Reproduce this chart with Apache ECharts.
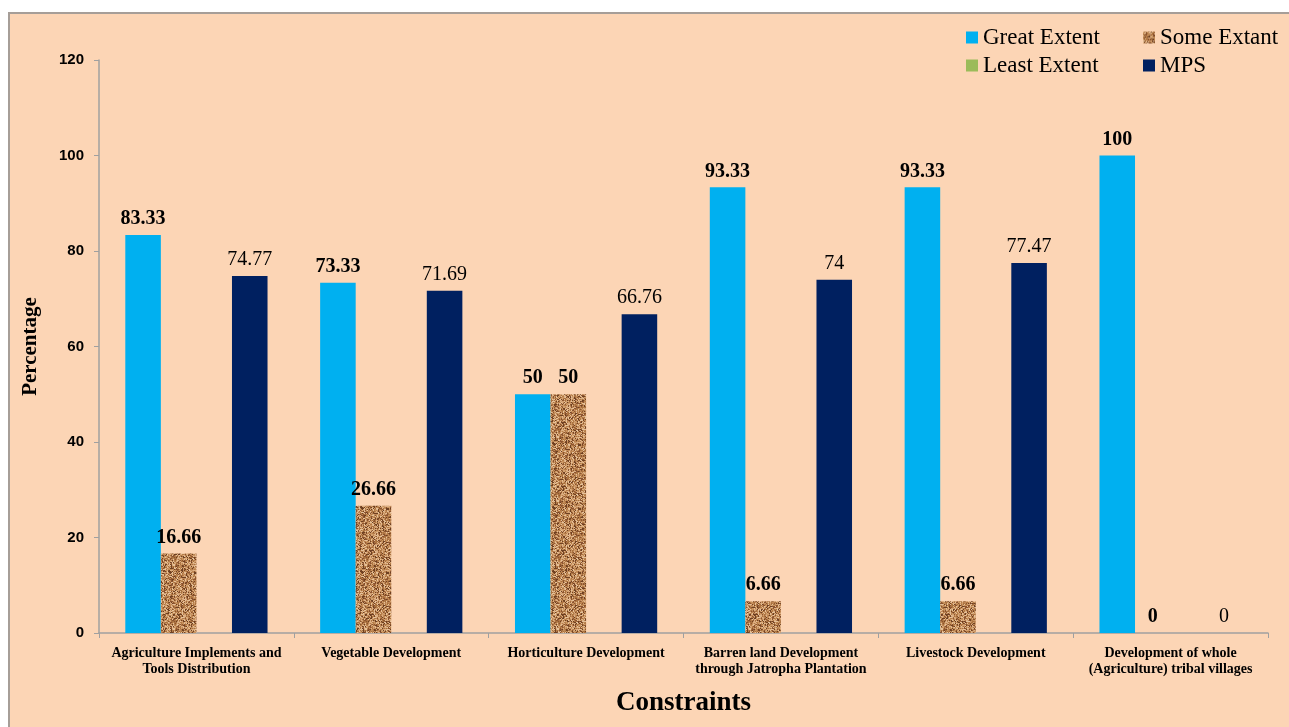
<!DOCTYPE html>
<html>
<head>
<meta charset="utf-8">
<script src="https://cdn.jsdelivr.net/npm/echarts@6/dist/echarts.min.js"></script>
<style>
html,body{margin:0;padding:0;background:#fff;}
#c{width:1289px;height:727px;}
</style>
</head>
<body>
<div id="c"></div>
<script>
var categories = [
  "Agriculture Implements and\nTools Distribution",
  "Vegetable Development",
  "Horticulture Development",
  "Barren land Development\nthrough Jatropha Plantation",
  "Livestock Development",
  "Development of whole\n(Agriculture) tribal villages"
];
var greatExtent = [83.33, 73.33, 50, 93.33, 93.33, 100];
var someExtant  = [16.66, 26.66, 50, 6.66, 6.66, 0];
var leastExtent = [0, 0, 0, 0, 0, 0];
var mps         = [74.77, 71.69, 66.76, 74, 77.47, 0];
var yTicks = [0, 20, 40, 60, 80, 100, 120];

// deterministic cork-like texture
function makeTexture() {
  var N = 64;
  var cv = document.createElement('canvas');
  cv.width = N; cv.height = N;
  var ctx = cv.getContext('2d');
  ctx.fillStyle = '#BF8754';
  ctx.fillRect(0, 0, N, N);
  var shades = ['#DDB084', '#D2A070', '#A9713F', '#8C5430', '#6E4022', '#C8935F', '#E6C29A', '#B57C48'];
  for (var y = 0; y < N; y++) {
    for (var x = 0; x < N; x++) {
      var h = ((x * 374761393) ^ (y * 668265263)) >>> 0;
      h = Math.imul(h ^ (h >>> 13), 1274126177) >>> 0;
      h = (h ^ (h >>> 16)) >>> 0;
      var idx = h % 10;
      if (idx < shades.length) {
        ctx.fillStyle = shades[idx];
        var w = (h >>> 8) % 3 === 0 ? 2 : 1;
        var hh = (h >>> 12) % 4 === 0 ? 2 : 1;
        ctx.fillRect(x, y, w, hh);
      }
    }
  }
  return cv;
}
var tex = makeTexture();

var serif = '"Liberation Serif", "Times New Roman", serif';
var sans = '"Liberation Sans", Arial, sans-serif';

var chart = echarts.init(document.getElementById('c'));
var boldLabel = {show: true, position: 'top', distance: 6, fontFamily: serif, fontWeight: 'bold', fontSize: 20, color: '#000'};
var normLabel = {show: true, position: 'top', distance: 6, fontFamily: serif, fontWeight: 'normal', fontSize: 20, color: '#000'};

chart.setOption({
  backgroundColor: '#ffffff',
  animation: false,
  graphic: [{
    type: 'rect', silent: true, z: -100,
    shape: {x: 9, y: 13, width: 1300, height: 730},
    style: {fill: '#FCD5B5', stroke: '#A69E98', lineWidth: 2}
  }],
  legend: [{
    left: 961, top: 21, orient: 'vertical', icon: 'rect', itemWidth: 12, itemHeight: 12, itemGap: 5,
    data: ['Great Extent', 'Least Extent'],
    textStyle: {fontFamily: serif, fontSize: 23, color: '#000'}
  }, {
    left: 1138, top: 21, orient: 'vertical', icon: 'rect', itemWidth: 12, itemHeight: 12, itemGap: 5,
    data: ['Some Extant', 'MPS'],
    textStyle: {fontFamily: serif, fontSize: 23, color: '#000'}
  }],
  grid: {left: 99, right: 21, top: 60, bottom: 94, containLabel: false},
  xAxis: {
    type: 'category',
    data: categories,
    name: 'Constraints',
    nameLocation: 'middle',
    nameGap: 57,
    nameTextStyle: {fontFamily: serif, fontWeight: 'bold', fontSize: 27, color: '#000'},
    axisLine: {lineStyle: {color: '#A0A0A0', width: 1.5}},
    axisTick: {show: true, length: 5, lineStyle: {color: '#A0A0A0'}},
    axisLabel: {interval: 0, margin: 12, fontFamily: serif, fontWeight: 'bold', fontSize: 14, lineHeight: 16, color: '#000'}
  },
  yAxis: {
    type: 'value', min: 0, max: 120, interval: 20,
    name: 'Percentage',
    nameLocation: 'middle',
    nameGap: 58,
    nameRotate: 90,
    nameTextStyle: {fontFamily: serif, fontWeight: 'bold', fontSize: 21, color: '#000'},
    axisLine: {show: true, lineStyle: {color: '#A0A0A0', width: 1.5}},
    axisTick: {show: true, length: 5, lineStyle: {color: '#A0A0A0'}},
    splitLine: {show: false},
    axisLabel: {margin: 15, fontFamily: sans, fontWeight: 'bold', fontSize: 15, color: '#000',
      formatter: function (v) { return yTicks.indexOf(v) >= 0 ? String(v) : ''; }}
  },
  series: [{
    name: 'Great Extent', type: 'bar', data: greatExtent,
    barGap: '0%', barCategoryGap: '27%',
    itemStyle: {color: '#00B0F0'},
    label: boldLabel
  }, {
    name: 'Some Extant', type: 'bar', data: someExtant,
    itemStyle: {color: {image: tex, repeat: 'repeat'}},
    label: boldLabel
  }, {
    name: 'Least Extent', type: 'bar', data: leastExtent,
    itemStyle: {color: '#9BBB59'},
    label: {show: false}
  }, {
    name: 'MPS', type: 'bar', data: mps,
    itemStyle: {color: '#002060'},
    label: normLabel
  }]
});
</script>
</body>
</html>
